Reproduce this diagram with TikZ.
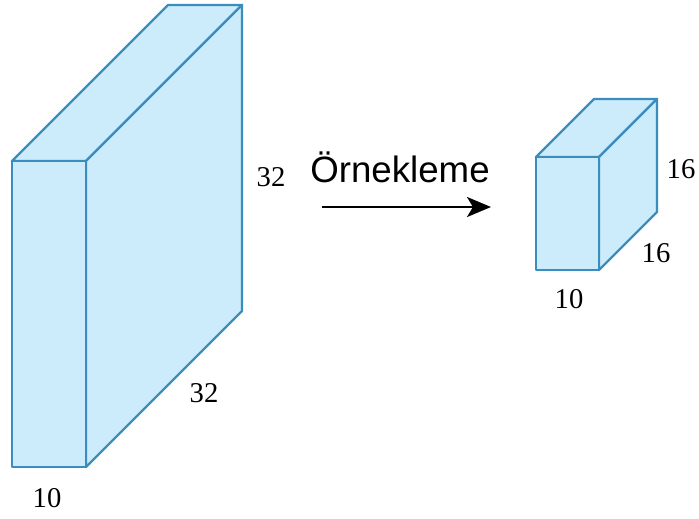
\documentclass[tikz,border=0pt]{standalone}
\usepackage{fontspec}
\setmainfont{Liberation Serif}
\setsansfont{Liberation Sans}
\usetikzlibrary{arrows.meta}
\definecolor{boxfill}{HTML}{CCEBFB}
\definecolor{boxline}{HTML}{3B8DBD}
\begin{document}
\begin{tikzpicture}[x=0.75pt, y=-0.75pt,
        face/.style={draw=boxline, fill=boxfill, line width=1.8pt, line join=round},
        dimlabel/.style={font=\fontsize{21.5}{24}\selectfont, inner sep=0pt},
        oplabel/.style={font=\sffamily\fontsize{27.5}{30}\selectfont, inner sep=0pt}]
      \useasboundingbox (0,0) rectangle (699,518);
      % Buyuk kutu (32x32x10)
      \draw[face] (12,161) -- (168,5) -- (242,5) -- (86,161) -- cycle;
      \draw[face] (86,161) -- (242,5) -- (242,311) -- (86,467) -- cycle;
      \draw[face] (12,161) rectangle (86,467);
      % Kucuk kutu (16x16x10)
      \draw[face] (536,157) -- (594,99) -- (657,99) -- (599,157) -- cycle;
      \draw[face] (599,157) -- (657,99) -- (657,212) -- (599,270) -- cycle;
      \draw[face] (536,157) rectangle (599,270);
      % Boyut etiketleri
      \node[dimlabel] (bigh)  at (271,177) {32};
      \node[dimlabel] (bigd)  at (204,393) {32};
      \node[dimlabel] (bigw)  at (47,498)  {10};
      \node[dimlabel] (smallh) at (681,169) {16};
      \node[dimlabel] (smalld) at (656,253) {16};
      \node[dimlabel] (smallw) at (569,299) {10};
      % Ok
      \coordinate (src) at (322,207);
      \coordinate (dst) at (491,207);
      \draw[-{Stealth[length=24pt*0.75, width=20pt*0.75, inset=6pt*0.75]}, line width=2pt] (src) -- (dst);
      \node[oplabel] (pool) at (400,167) {Örnekleme};
\end{tikzpicture}
\end{document}
